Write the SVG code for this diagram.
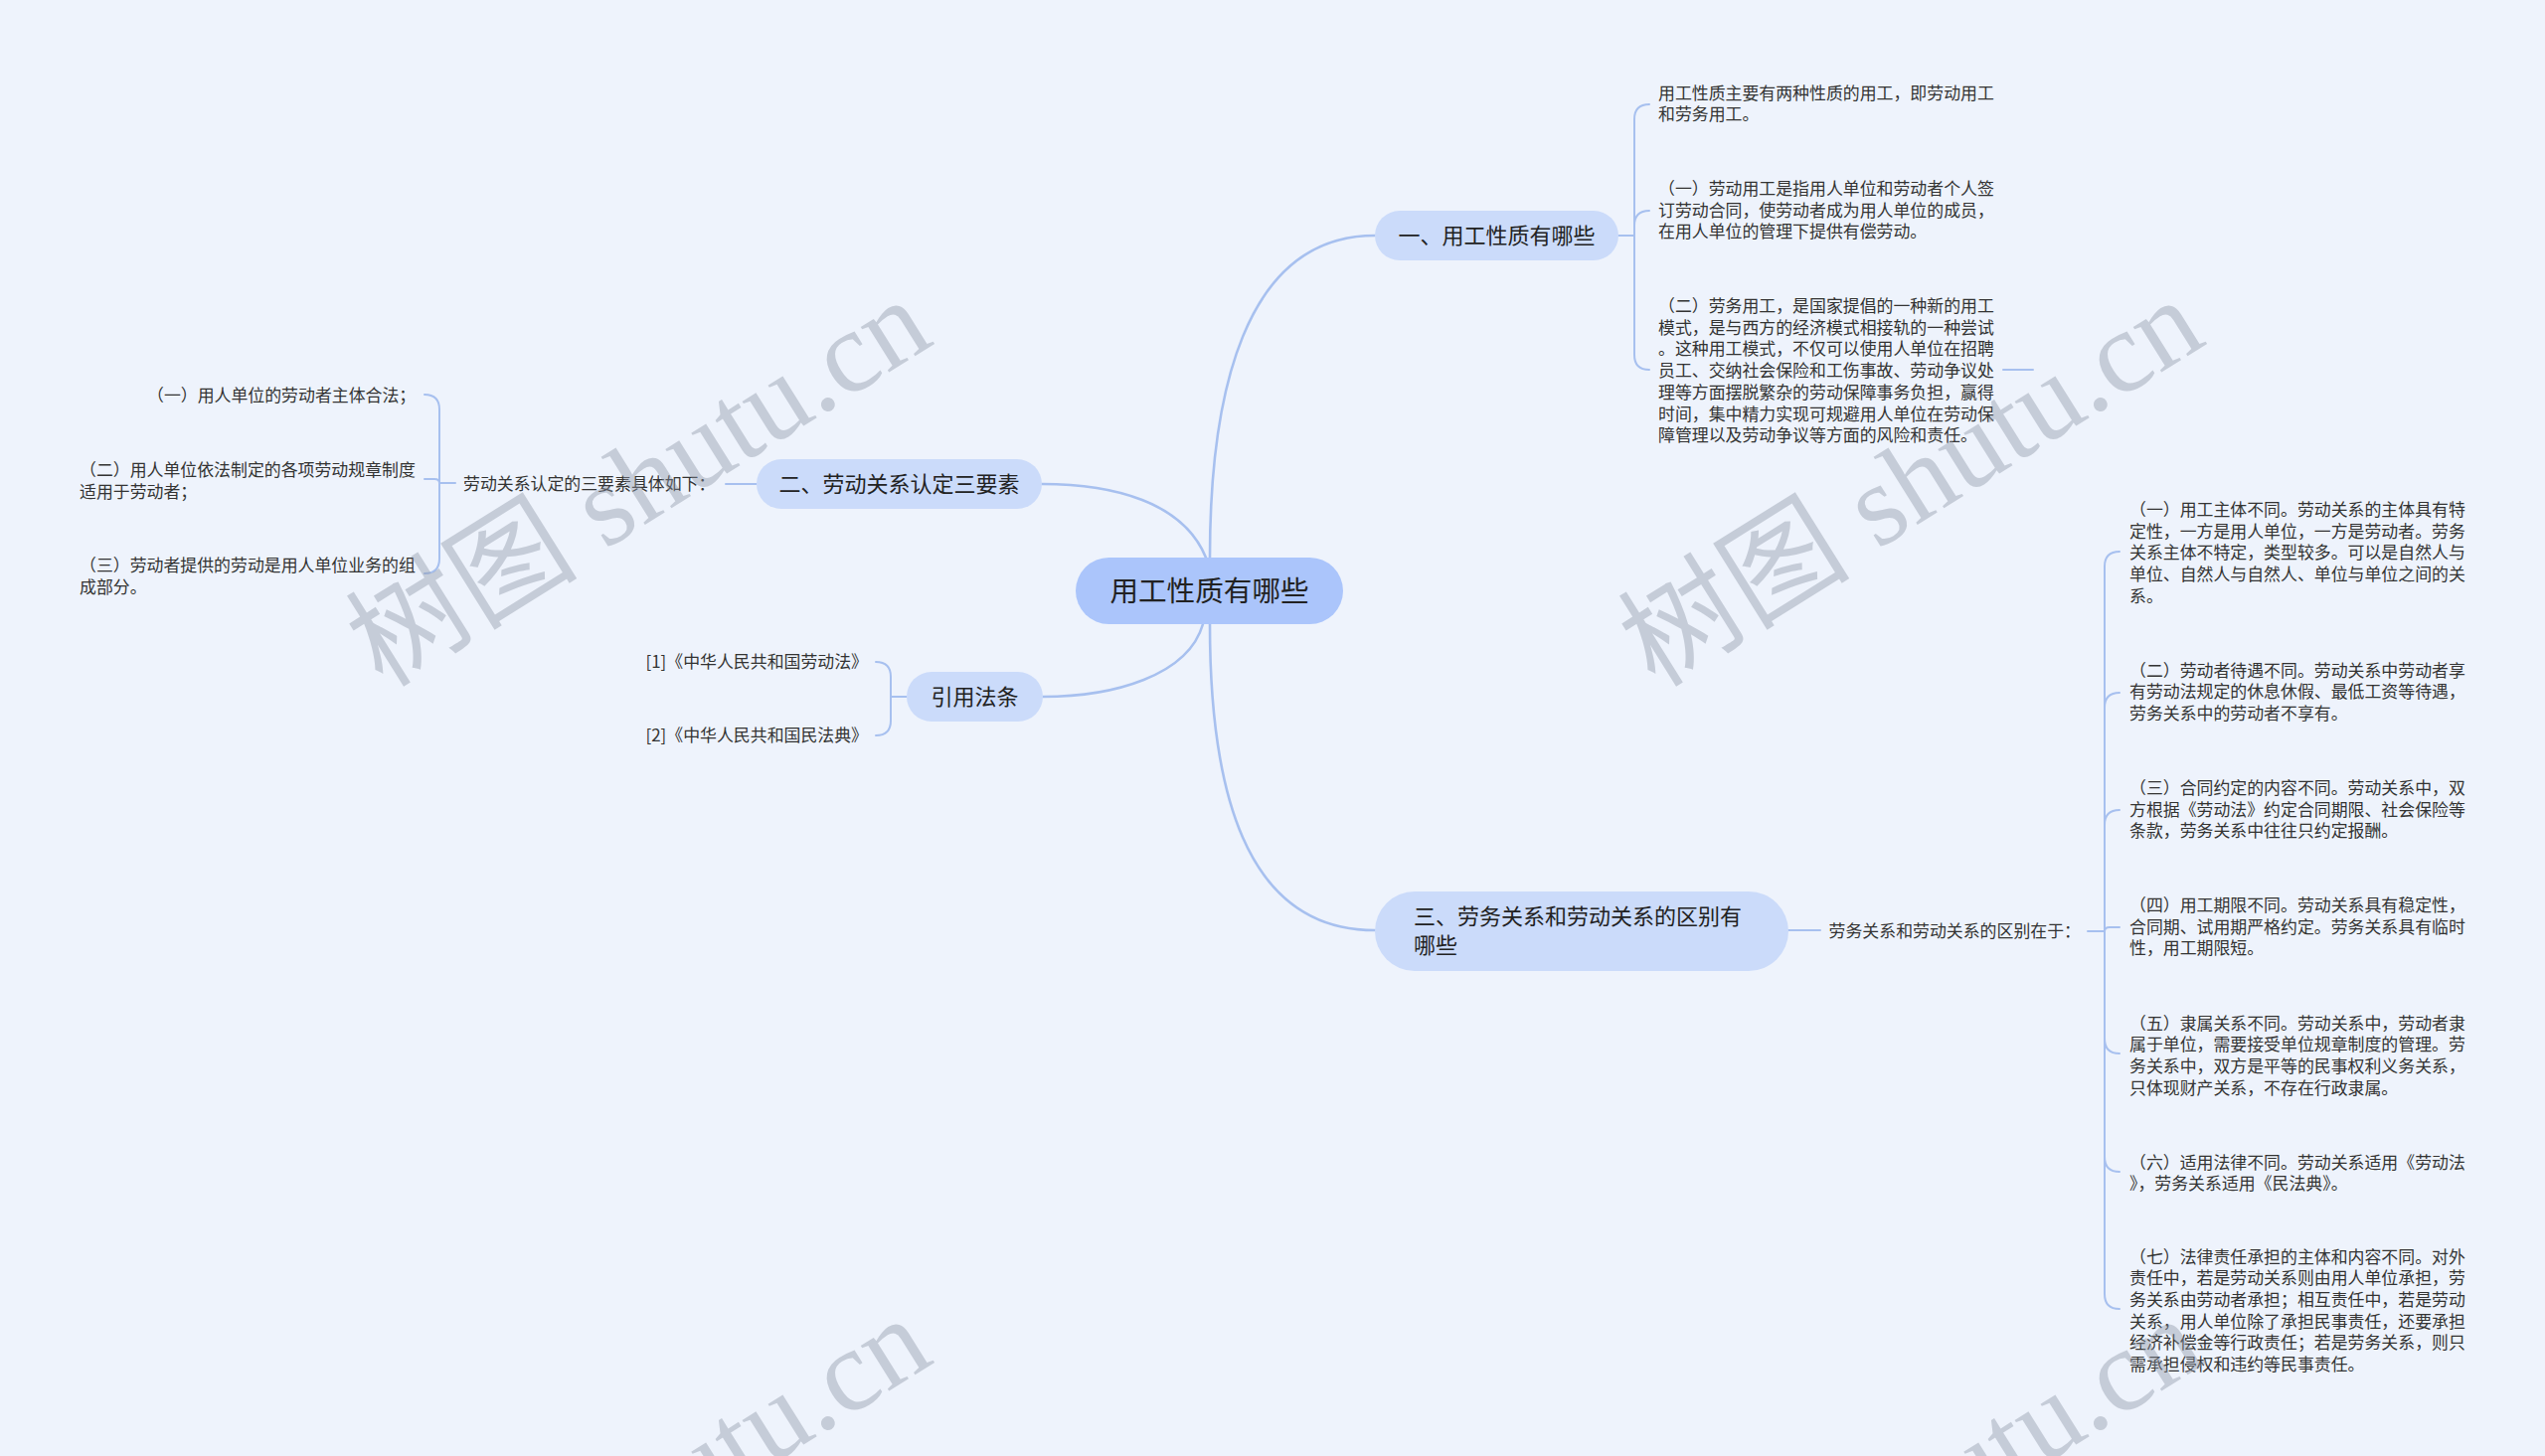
<svg xmlns="http://www.w3.org/2000/svg" width="2560" height="1465" viewBox="0 0 2560 1465">
<style>
.bg{fill:#eef3fc}
text{font-family:"Noto Sans CJK SC","Liberation Sans",sans-serif;fill:#333}
.leaf{font-size:16.9px}
.br{font-size:22px;fill:#222}
.rt{font-size:28.6px;fill:#222}
.rootbox{fill:#abc5fb}
.brbox{fill:#cbdbfa}
#connectors path{fill:none;stroke:#a7c0ef;stroke-width:2;stroke-linecap:round}
#connectors path.main{stroke-width:2.6}
.wm{font-family:"Liberation Serif","Noto Sans CJK SC",serif;font-size:117px;fill:#8a93a3;opacity:.4}
</style>
<rect class="bg" x="0" y="0" width="2560" height="1465"/>

<g id="connectors">
  <path class="main" d="M1217 561 C1217 400 1250 237 1383 237"/>
  <path class="main" d="M1213 561 C1190 505 1120 487 1048 487"/>
  <path class="main" d="M1210 628 C1195 680 1120 701 1049 701"/>
  <path class="main" d="M1217 628 C1217 790 1250 936 1383 936"/>
  <path d="M1628 237 L1644 237"/>
  <path d="M1644 237 L1644 120 Q1644 105 1659 105"/>
  <path d="M1644 237 L1644 227 Q1644 212 1659 212"/>
  <path d="M1644 237 L1644 357 Q1644 372 1659 372"/>
  <path d="M2015 372 L2045 372"/>
  <path d="M761 487 L730 487"/>
  <path d="M458 486 L442 486"/>
  <path d="M442 486 L442 412 Q442 397 427 397"/>
  <path d="M442 486 Q442 482 437 482 L427 482"/>
  <path d="M442 486 L442 562 Q442 577 427 577"/>
  <path d="M912 701 L896 701"/>
  <path d="M896 701 L896 681 Q896 666 881 666"/>
  <path d="M896 701 L896 725 Q896 740 881 740"/>
  <path d="M1799 936 L1831 936"/>
  <path d="M2100 937 L2117 937"/>
  <path d="M2117 937 L2117 570 Q2117 555 2132 555"/>
  <path d="M2117 937 L2117 712 Q2117 697 2132 697"/>
  <path d="M2117 937 L2117 830 Q2117 815 2132 815"/>
  <path d="M2117 937 Q2117 933 2122 933 L2132 933"/>
  <path d="M2117 937 L2117 1045 Q2117 1060 2132 1060"/>
  <path d="M2117 937 L2117 1164 Q2117 1179 2132 1179"/>
  <path d="M2117 937 L2117 1302 Q2117 1317 2132 1317"/>
</g>

<g id="root">
  <rect class="rootbox" x="1082" y="561" width="269" height="67" rx="33.5"/>
  <text class="rt" x="1216.5" y="605" text-anchor="middle">用工性质有哪些</text>
</g>

<g id="b1">
  <rect class="brbox" x="1383" y="212" width="245" height="50" rx="25"/>
  <text class="br" x="1505.5" y="245" text-anchor="middle">一、用工性质有哪些</text>
</g>
<g id="b1-1">
  <text class="leaf" x="1668" y="99.5"><tspan x="1668">用工性质主要有两种性质的用工，即劳动用工</tspan><tspan x="1668" dy="21.7">和劳务用工。</tspan></text>
</g>
<g id="b1-2">
  <text class="leaf" x="1668" y="196"><tspan x="1668">（一）劳动用工是指用人单位和劳动者个人签</tspan><tspan x="1668" dy="21.7">订劳动合同，使劳动者成为用人单位的成员，</tspan><tspan x="1668" dy="21.7">在用人单位的管理下提供有偿劳动。</tspan></text>
</g>
<g id="b1-3">
  <text class="leaf" x="1668" y="314"><tspan x="1668">（二）劳务用工，是国家提倡的一种新的用工</tspan><tspan x="1668" dy="21.7">模式，是与西方的经济模式相接轨的一种尝试</tspan><tspan x="1668" dy="21.7">。这种用工模式，不仅可以使用人单位在招聘</tspan><tspan x="1668" dy="21.7">员工、交纳社会保险和工伤事故、劳动争议处</tspan><tspan x="1668" dy="21.7">理等方面摆脱繁杂的劳动保障事务负担，赢得</tspan><tspan x="1668" dy="21.7">时间，集中精力实现可规避用人单位在劳动保</tspan><tspan x="1668" dy="21.7">障管理以及劳动争议等方面的风险和责任。</tspan></text>
</g>

<g id="b2">
  <rect class="brbox" x="761" y="462" width="287" height="50" rx="25"/>
  <text class="br" x="904.5" y="495" text-anchor="middle">二、劳动关系认定三要素</text>
</g>
<g id="b2-0">
  <text class="leaf" x="466" y="492.5">劳动关系认定的三要素具体如下：</text>
</g>
<g id="b2-1">
  <text class="leaf" x="148" y="403.5">（一）用人单位的劳动者主体合法；</text>
</g>
<g id="b2-2">
  <text class="leaf" x="80" y="479"><tspan x="80">（二）用人单位依法制定的各项劳动规章制度</tspan><tspan x="80" dy="21.7">适用于劳动者；</tspan></text>
</g>
<g id="b2-3">
  <text class="leaf" x="80" y="575"><tspan x="80">（三）劳动者提供的劳动是用人单位业务的组</tspan><tspan x="80" dy="21.7">成部分。</tspan></text>
</g>

<g id="cite">
  <rect class="brbox" x="912" y="676" width="137" height="50" rx="25"/>
  <text class="br" x="980.5" y="709" text-anchor="middle">引用法条</text>
</g>
<g id="cite-1">
  <text class="leaf" x="873" y="671.5" text-anchor="end">[1]《中华人民共和国劳动法》</text>
</g>
<g id="cite-2">
  <text class="leaf" x="873" y="746" text-anchor="end">[2]《中华人民共和国民法典》</text>
</g>

<g id="b3">
  <rect class="brbox" x="1383" y="897" width="416" height="80" rx="40"/>
  <text class="br" x="1422" y="930"><tspan x="1422">三、劳务关系和劳动关系的区别有</tspan><tspan x="1422" dy="29">哪些</tspan></text>
</g>
<g id="b3-0">
  <text class="leaf" x="1839.6" y="942.5">劳务关系和劳动关系的区别在于：</text>
</g>
<g id="b3-1">
  <text class="leaf" x="2142" y="519"><tspan x="2142">（一）用工主体不同。劳动关系的主体具有特</tspan><tspan x="2142" dy="21.7">定性，一方是用人单位，一方是劳动者。劳务</tspan><tspan x="2142" dy="21.7">关系主体不特定，类型较多。可以是自然人与</tspan><tspan x="2142" dy="21.7">单位、自然人与自然人、单位与单位之间的关</tspan><tspan x="2142" dy="21.7">系。</tspan></text>
</g>
<g id="b3-2">
  <text class="leaf" x="2142" y="680.5"><tspan x="2142">（二）劳动者待遇不同。劳动关系中劳动者享</tspan><tspan x="2142" dy="21.7">有劳动法规定的休息休假、最低工资等待遇，</tspan><tspan x="2142" dy="21.7">劳务关系中的劳动者不享有。</tspan></text>
</g>
<g id="b3-3">
  <text class="leaf" x="2142" y="799"><tspan x="2142">（三）合同约定的内容不同。劳动关系中，双</tspan><tspan x="2142" dy="21.7">方根据《劳动法》约定合同期限、社会保险等</tspan><tspan x="2142" dy="21.7">条款，劳务关系中往往只约定报酬。</tspan></text>
</g>
<g id="b3-4">
  <text class="leaf" x="2142" y="917"><tspan x="2142">（四）用工期限不同。劳动关系具有稳定性，</tspan><tspan x="2142" dy="21.7">合同期、试用期严格约定。劳务关系具有临时</tspan><tspan x="2142" dy="21.7">性，用工期限短。</tspan></text>
</g>
<g id="b3-5">
  <text class="leaf" x="2142" y="1035.5"><tspan x="2142">（五）隶属关系不同。劳动关系中，劳动者隶</tspan><tspan x="2142" dy="21.7">属于单位，需要接受单位规章制度的管理。劳</tspan><tspan x="2142" dy="21.7">务关系中，双方是平等的民事权利义务关系，</tspan><tspan x="2142" dy="21.7">只体现财产关系，不存在行政隶属。</tspan></text>
</g>
<g id="b3-6">
  <text class="leaf" x="2142" y="1175.5"><tspan x="2142">（六）适用法律不同。劳动关系适用《劳动法</tspan><tspan x="2142" dy="21.7">》，劳务关系适用《民法典》。</tspan></text>
</g>
<g id="b3-7">
  <text class="leaf" x="2142" y="1270.5"><tspan x="2142">（七）法律责任承担的主体和内容不同。对外</tspan><tspan x="2142" dy="21.7">责任中，若是劳动关系则由用人单位承担，劳</tspan><tspan x="2142" dy="21.7">务关系由劳动者承担；相互责任中，若是劳动</tspan><tspan x="2142" dy="21.7">关系，用人单位除了承担民事责任，还要承担</tspan><tspan x="2142" dy="21.7">经济补偿金等行政责任；若是劳务关系，则只</tspan><tspan x="2142" dy="21.7">需承担侵权和违约等民事责任。</tspan></text>
</g>

<g id="watermarks">
  <text class="wm" transform="translate(385 693) rotate(-32)">树图 shutu.cn</text>
  <text class="wm" transform="translate(1665 693) rotate(-32)">树图 shutu.cn</text>
  <text class="wm" transform="translate(385 1718) rotate(-32)">树图 shutu.cn</text>
  <text class="wm" transform="translate(1665 1718) rotate(-32)">树图 shutu.cn</text>
</g>
</svg>
